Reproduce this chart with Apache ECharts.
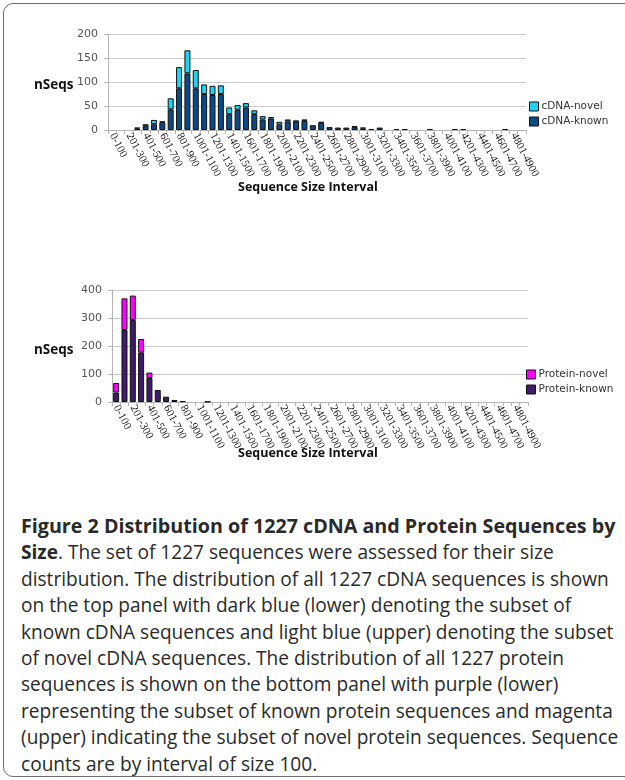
<!DOCTYPE html>
<html>
<head>
<meta charset="utf-8">
<script src="https://cdn.jsdelivr.net/npm/echarts@6/dist/echarts.min.js"></script>
<style>
  html, body { margin: 0; padding: 0; background: #fff; width: 625px; height: 780px; overflow: hidden; }
  #frame { position: absolute; left: 3px; top: 3px; width: 660px; height: 772px; border: 1.5px solid #6e6e6e; border-radius: 10px; }
  #chart { position: absolute; left: 0; top: 0; width: 625px; height: 480px; }
  #caption { position: absolute; left: 21px; top: 513px; font-family: 'Open Sans', sans-serif; font-size: 19.1px; line-height: 26.4px; color: #2a2a2a; white-space: nowrap; }
  #caption .head { font-weight: bold; font-size: 19.7px; }
</style>
</head>
<body>
<div id="frame"></div>
<div id="chart"></div>
<div id="caption">
  <div class="head">Figure 2 Distribution of 1227 cDNA and Protein Sequences by</div>
  <div><b>Size</b>. The set of 1227 sequences were assessed for their size</div>
  <div>distribution. The distribution of all 1227 cDNA sequences is shown</div>
  <div>on the top panel with dark blue (lower) denoting the subset of</div>
  <div>known cDNA sequences and light blue (upper) denoting the subset</div>
  <div>of novel cDNA sequences. The distribution of all 1227 protein</div>
  <div>sequences is shown on the bottom panel with purple (lower)</div>
  <div>representing the subset of known protein sequences and magenta</div>
  <div>(upper) indicating the subset of novel protein sequences. Sequence</div>
  <div>counts are by interval of size 100.</div>
</div>
<script>
document.addEventListener('DOMContentLoaded', function() {

    const intervals = [
        '0-100', '101-200', '201-300', '301-400', '401-500', '501-600', '601-700', '701-800', '801-900', '901-1000',
        '1001-1100', '1101-1200', '1201-1300', '1301-1400', '1401-1500', '1501-1600', '1601-1700', '1701-1800', '1801-1900', '1901-2000',
        '2001-2100', '2101-2200', '2201-2300', '2301-2400', '2401-2500', '2501-2600', '2601-2700', '2701-2800', '2801-2900', '2901-3000',
        '3001-3100', '3101-3200', '3201-3300', '3301-3400', '3401-3500', '3501-3600', '3601-3700', '3701-3800', '3801-3900', '3901-4000',
        '4001-4100', '4101-4200', '4201-4300', '4301-4400', '4401-4500', '4501-4600', '4601-4700', '4701-4800', '4801-4900', '4901-5000'
    ];

    const cdnaKnown = [
        0, 0, 0, 3, 8, 12, 16, 43, 87, 118,
        87, 75, 73, 75, 33, 42, 47, 33, 22, 24,
        11, 18, 18, 19, 10, 15, 6, 5, 5, 6,
        3, 2, 5, 0, 2, 2, 0, 0, 2, 0,
        0, 2, 2, 0, 0, 0, 0, 2, 0, 0
    ];
    const cdnaNovel = [
        0, 0, 0, 2, 4, 9, 2, 23, 44, 48,
        38, 20, 19, 18, 14, 10, 9, 8, 7, 3,
        6, 4, 1, 3, 0, 2, 0, 0, 0, 2,
        2, 0, 0, 0, 0, 0, 0, 0, 0, 0,
        0, 0, 0, 0, 0, 0, 0, 0, 0, 0
    ];
    const proteinKnown = [
        34, 257, 293, 176, 86, 43, 19, 7, 3, 0,
        0, 1, 0, 0, 0, 0, 0, 0, 0, 0,
        0, 0, 0, 0, 0, 0, 0, 0, 0, 0,
        0, 0, 0, 0, 0, 0, 0, 0, 0, 0,
        0, 0, 0, 0, 0, 0, 0, 0, 0, 0
    ];
    const proteinNovel = [
        34, 113, 87, 49, 19, 0, 0, 0, 0, 0,
        0, 0, 0, 0, 0, 0, 0, 0, 0, 0,
        0, 0, 0, 0, 0, 0, 0, 0, 0, 0,
        0, 0, 0, 0, 0, 0, 0, 0, 0, 0,
        0, 0, 0, 0, 0, 0, 0, 0, 0, 0
    ];

    const yLabelFont = { fontFamily: 'DejaVu Sans', fontSize: 11, color: '#555' };
    const nameFont = { fontFamily: 'Open Sans', fontWeight: 'bold', fontSize: 12.5, fill: '#111' };

    // zero counts are left empty so no outline is drawn
    const blank = arr => arr.map(v => v === 0 ? '-' : v);

    function xAxisFor(gridIndex) {
        return {
            type: 'category',
            gridIndex: gridIndex,
            data: intervals,
            axisLine: { lineStyle: { color: '#b5b5b5' } },
            axisTick: { show: true, interval: 0, length: 4, lineStyle: { color: '#b5b5b5' } },
            axisLabel: {
                interval: 1, rotate: -62, margin: 4,
                fontFamily: 'Liberation Serif', fontSize: 11, color: '#111'
            }
        };
    }

    function yAxisFor(gridIndex, max, step) {
        return {
            type: 'value',
            gridIndex: gridIndex,
            min: 0, max: max, interval: step,
            axisLine: { show: true, lineStyle: { color: '#b5b5b5' } },
            axisTick: { show: true, length: 4, lineStyle: { color: '#b5b5b5' } },
            axisLabel: Object.assign({ margin: 10 }, yLabelFont),
            splitLine: { lineStyle: { color: '#cacaca' } }
        };
    }

    function barSeries(name, data, color, idx, stack) {
        return {
            name: name,
            type: 'bar',
            stack: stack,
            xAxisIndex: idx,
            yAxisIndex: idx,
            barWidth: 6,
            data: blank(data),
            itemStyle: { color: color, borderColor: '#111', borderWidth: 1 }
        };
    }

    const legendBase = {
        orient: 'vertical',
        itemWidth: 9, itemHeight: 9, itemGap: 4,
        icon: 'rect',
        textStyle: { fontFamily: 'DejaVu Sans', fontSize: 10.5, color: '#333', padding: [0, 0, 0, -2] },
        itemStyle: { borderColor: '#111', borderWidth: 1 }
    };

    let myChart = echarts.init(document.getElementById('chart'));

    let option = {
        animation: false,
        grid: [
            { left: 108, top: 34, width: 418, height: 96 },
            { left: 112, top: 290, width: 416, height: 112 }
        ],
        xAxis: [xAxisFor(0), xAxisFor(1)],
        yAxis: [yAxisFor(0, 200, 50), yAxisFor(1, 400, 100)],
        legend: [
            Object.assign({ data: ['cDNA-novel', 'cDNA-known'], left: 524, top: 96 }, legendBase),
            Object.assign({ data: ['Protein-novel', 'Protein-known'], left: 521, top: 364 }, legendBase)
        ],
        graphic: [
            { type: 'text', left: 34, top: 78, style: Object.assign({ text: 'nSeqs' }, nameFont, { fontSize: 13.5 }) },
            { type: 'text', left: 34, top: 343, style: Object.assign({ text: 'nSeqs' }, nameFont, { fontSize: 13.5 }) },
            { type: 'text', left: 238, top: 181, style: Object.assign({ text: 'Sequence Size Interval' }, nameFont) },
            { type: 'text', left: 238, top: 447, style: Object.assign({ text: 'Sequence Size Interval' }, nameFont) }
        ],
        series: [
            barSeries('cDNA-known', cdnaKnown, '#0b4a86', 0, 'cdna'),
            barSeries('cDNA-novel', cdnaNovel, '#1ed2f2', 0, 'cdna'),
            barSeries('Protein-known', proteinKnown, '#3f1a68', 1, 'prot'),
            barSeries('Protein-novel', proteinNovel, '#ff00ff', 1, 'prot')
        ]
    };
    myChart.setOption(option);
});
</script>
</body>
</html>
